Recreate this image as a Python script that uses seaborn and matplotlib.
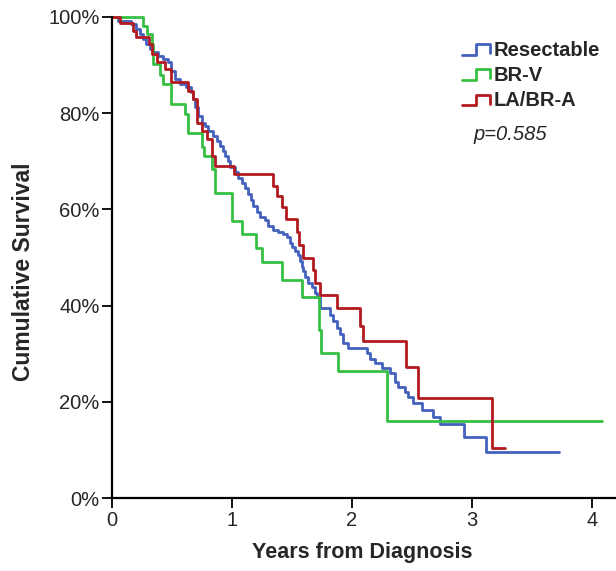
import numpy as np
import pandas as pd
import matplotlib
matplotlib.use('Agg')
import matplotlib.pyplot as plt
import seaborn as sns
from matplotlib.lines import Line2D
from matplotlib.legend_handler import HandlerBase
from matplotlib.ticker import PercentFormatter

# survival steps: time of each drop (years) and level after it (%)
resect_t = [0, 0.05, 0.158, 0.2, 0.233, 0.258, 0.283, 0.317, 0.342, 0.383, 0.425, 0.467, 0.492,
            0.525, 0.567, 0.617, 0.658, 0.675, 0.692, 0.717, 0.75, 0.775, 0.8, 0.842, 0.875,
            0.9, 0.925, 0.942, 0.967, 0.983, 1.025, 1.05, 1.083, 1.108, 1.133, 1.158, 1.175,
            1.208, 1.233, 1.275, 1.3, 1.342, 1.383, 1.425, 1.458, 1.483, 1.5, 1.525, 1.55,
            1.567, 1.583, 1.592, 1.608, 1.633, 1.667, 1.692, 1.708, 1.733, 1.817, 1.842,
            1.875, 1.9, 1.925, 1.967, 2.125, 2.15, 2.192, 2.25, 2.317, 2.358, 2.383, 2.442,
            2.467, 2.508, 2.583, 2.675, 2.733, 2.933, 3.117, 3.725]
resect_s = [100, 99.2, 98.5, 97.5, 96.5, 95.4, 94.4, 93.3, 92.7, 91.9, 91.2, 90.6, 88.8,
            87.1, 86.0, 85.4, 84.4, 82.9, 81.2, 79.4, 78.0, 77.3, 76.2, 75.2, 74.2,
            73.1, 72.1, 71.0, 70.0, 68.8, 67.7, 66.5, 65.4, 64.4, 63.2, 62.0, 60.8,
            59.4, 58.5, 57.9, 56.5, 55.8, 55.4, 54.8, 54.2, 53.1, 52.1, 51.3, 50.6,
            49.2, 48.1, 47.1, 46.0, 44.8, 43.8, 42.7, 41.7, 39.5, 38.0, 36.7,
            35.4, 34.0, 32.3, 31.2, 30.2, 28.8, 28.1, 27.0, 26.0, 24.2, 23.0, 22.0,
            21.0, 19.8, 18.3, 16.9, 15.4, 12.7, 9.6, 9.6]

brv_t = [0, 0.258, 0.292, 0.333, 0.342, 0.4, 0.425, 0.492, 0.608, 0.633, 0.75, 0.767, 0.833,
         0.858, 1.0, 1.083, 1.2, 1.25, 1.417, 1.583, 1.725, 1.742, 1.883, 2.292, 4.083]
brv_s = [100, 98.1, 96.5, 94.4, 90.2, 88.0, 86.0, 81.9, 79.8, 75.8, 73.0, 71.0, 68.3,
         63.5, 57.5, 54.8, 52.0, 49.0, 45.4, 41.7, 35.0, 30.2, 26.5, 16.0, 16.0]

labra_t = [0, 0.067, 0.175, 0.2, 0.308, 0.333, 0.375, 0.442, 0.492, 0.633, 0.675, 0.708, 0.75,
           0.792, 0.833, 0.858, 1.017, 1.342, 1.375, 1.417, 1.45, 1.542, 1.558, 1.592,
           1.675, 1.692, 1.733, 1.875, 2.067, 2.092, 2.45, 2.55, 3.167, 3.275]
labra_s = [100, 98.8, 97.0, 95.8, 94.4, 92.3, 90.6, 89.2, 86.5, 84.6, 82.9, 78.0, 76.2,
           74.6, 71.0, 69.0, 67.3, 64.8, 62.7, 60.4, 58.0, 55.2, 52.5, 50.0,
           47.3, 44.8, 42.2, 39.4, 35.8, 32.7, 27.3, 20.7, 10.4, 10.4]

groups = ['Resectable', 'BR-V', 'LA/BR-A']
colors = {'Resectable': '#4361bd', 'BR-V': '#36c043', 'LA/BR-A': '#b11b20'}
p_text = 'p=0.585'

frames = []
for g, t, s in zip(groups, [resect_t, brv_t, labra_t], [resect_s, brv_s, labra_s]):
    frames.append(pd.DataFrame({'years': t, 'survival': s, 'group': g}))
df = pd.concat(frames, ignore_index=True)


class StepHandler(HandlerBase):
    # legend icon drawn as a little step, like the curves
    def create_artists(self, legend, orig_handle, xdescent, ydescent, width, height, fontsize, trans):
        x0, y0 = -xdescent, -ydescent
        xs = [x0, x0 + 0.5 * width, x0 + 0.5 * width, x0 + width, x0 + width]
        ys = [y0 + 0.1 * height, y0 + 0.1 * height, y0 + 0.85 * height, y0 + 0.85 * height, y0 + 0.2 * height]
        line = Line2D(xs, ys, color=orig_handle.get_color(), lw=orig_handle.get_linewidth(), transform=trans)
        return [line]


sns.set_style('ticks')
plt.rcParams['font.family'] = ['Liberation Sans', 'DejaVu Sans']

fig = plt.figure(figsize=(6.16, 5.71), dpi=100)
ax = fig.add_axes([112 / 616, 73 / 571, 504 / 616, 481 / 571])

sns.lineplot(data=df, x='years', y='survival', hue='group', hue_order=groups, palette=colors,
             drawstyle='steps-post', estimator=None, linewidth=2.0, legend=False, ax=ax)
for ln in ax.lines:
    ln.set_clip_on(False)

ax.set_xlim(0, 4.2)
ax.set_ylim(0, 100)
ax.set_xticks([0, 1, 2, 3, 4])
ax.set_yticks([0, 20, 40, 60, 80, 100])
ax.yaxis.set_major_formatter(PercentFormatter(xmax=100, decimals=0))
ax.tick_params(axis='both', direction='out', length=7, width=1.3, color='black',
               labelsize=14.5, labelcolor='#262626', pad=2)
for side in ['top', 'right']:
    ax.spines[side].set_visible(False)
for side in ['left', 'bottom']:
    ax.spines[side].set_color('black')
    ax.spines[side].set_linewidth(1.6)

ax.set_xlabel('Years from Diagnosis', fontsize=15.5, fontweight='bold')
ax.set_ylabel('Cumulative Survival', fontsize=16.5, fontweight='bold')
ax.xaxis.set_label_coords(0.497, -0.091)
ax.yaxis.set_label_coords(-0.152, 0.47)

handles = [Line2D([], [], color=colors[g], lw=2.0) for g in groups]
leg = ax.legend(handles, groups, loc='upper left', bbox_to_anchor=(462 / 616, 1 - 41 / 571),
                bbox_transform=fig.transFigure, frameon=False, handlelength=1.4, handletextpad=0.15,
                labelspacing=0.31, borderpad=0, borderaxespad=0,
                prop={'weight': 'bold', 'size': 14.5},
                handler_map={Line2D: StepHandler()})

fig.text(473 / 616, 1 - 134 / 571, p_text, fontsize=14.5, fontstyle='italic', color='#262626', va='center')

fig.savefig('out.png', dpi=100)
